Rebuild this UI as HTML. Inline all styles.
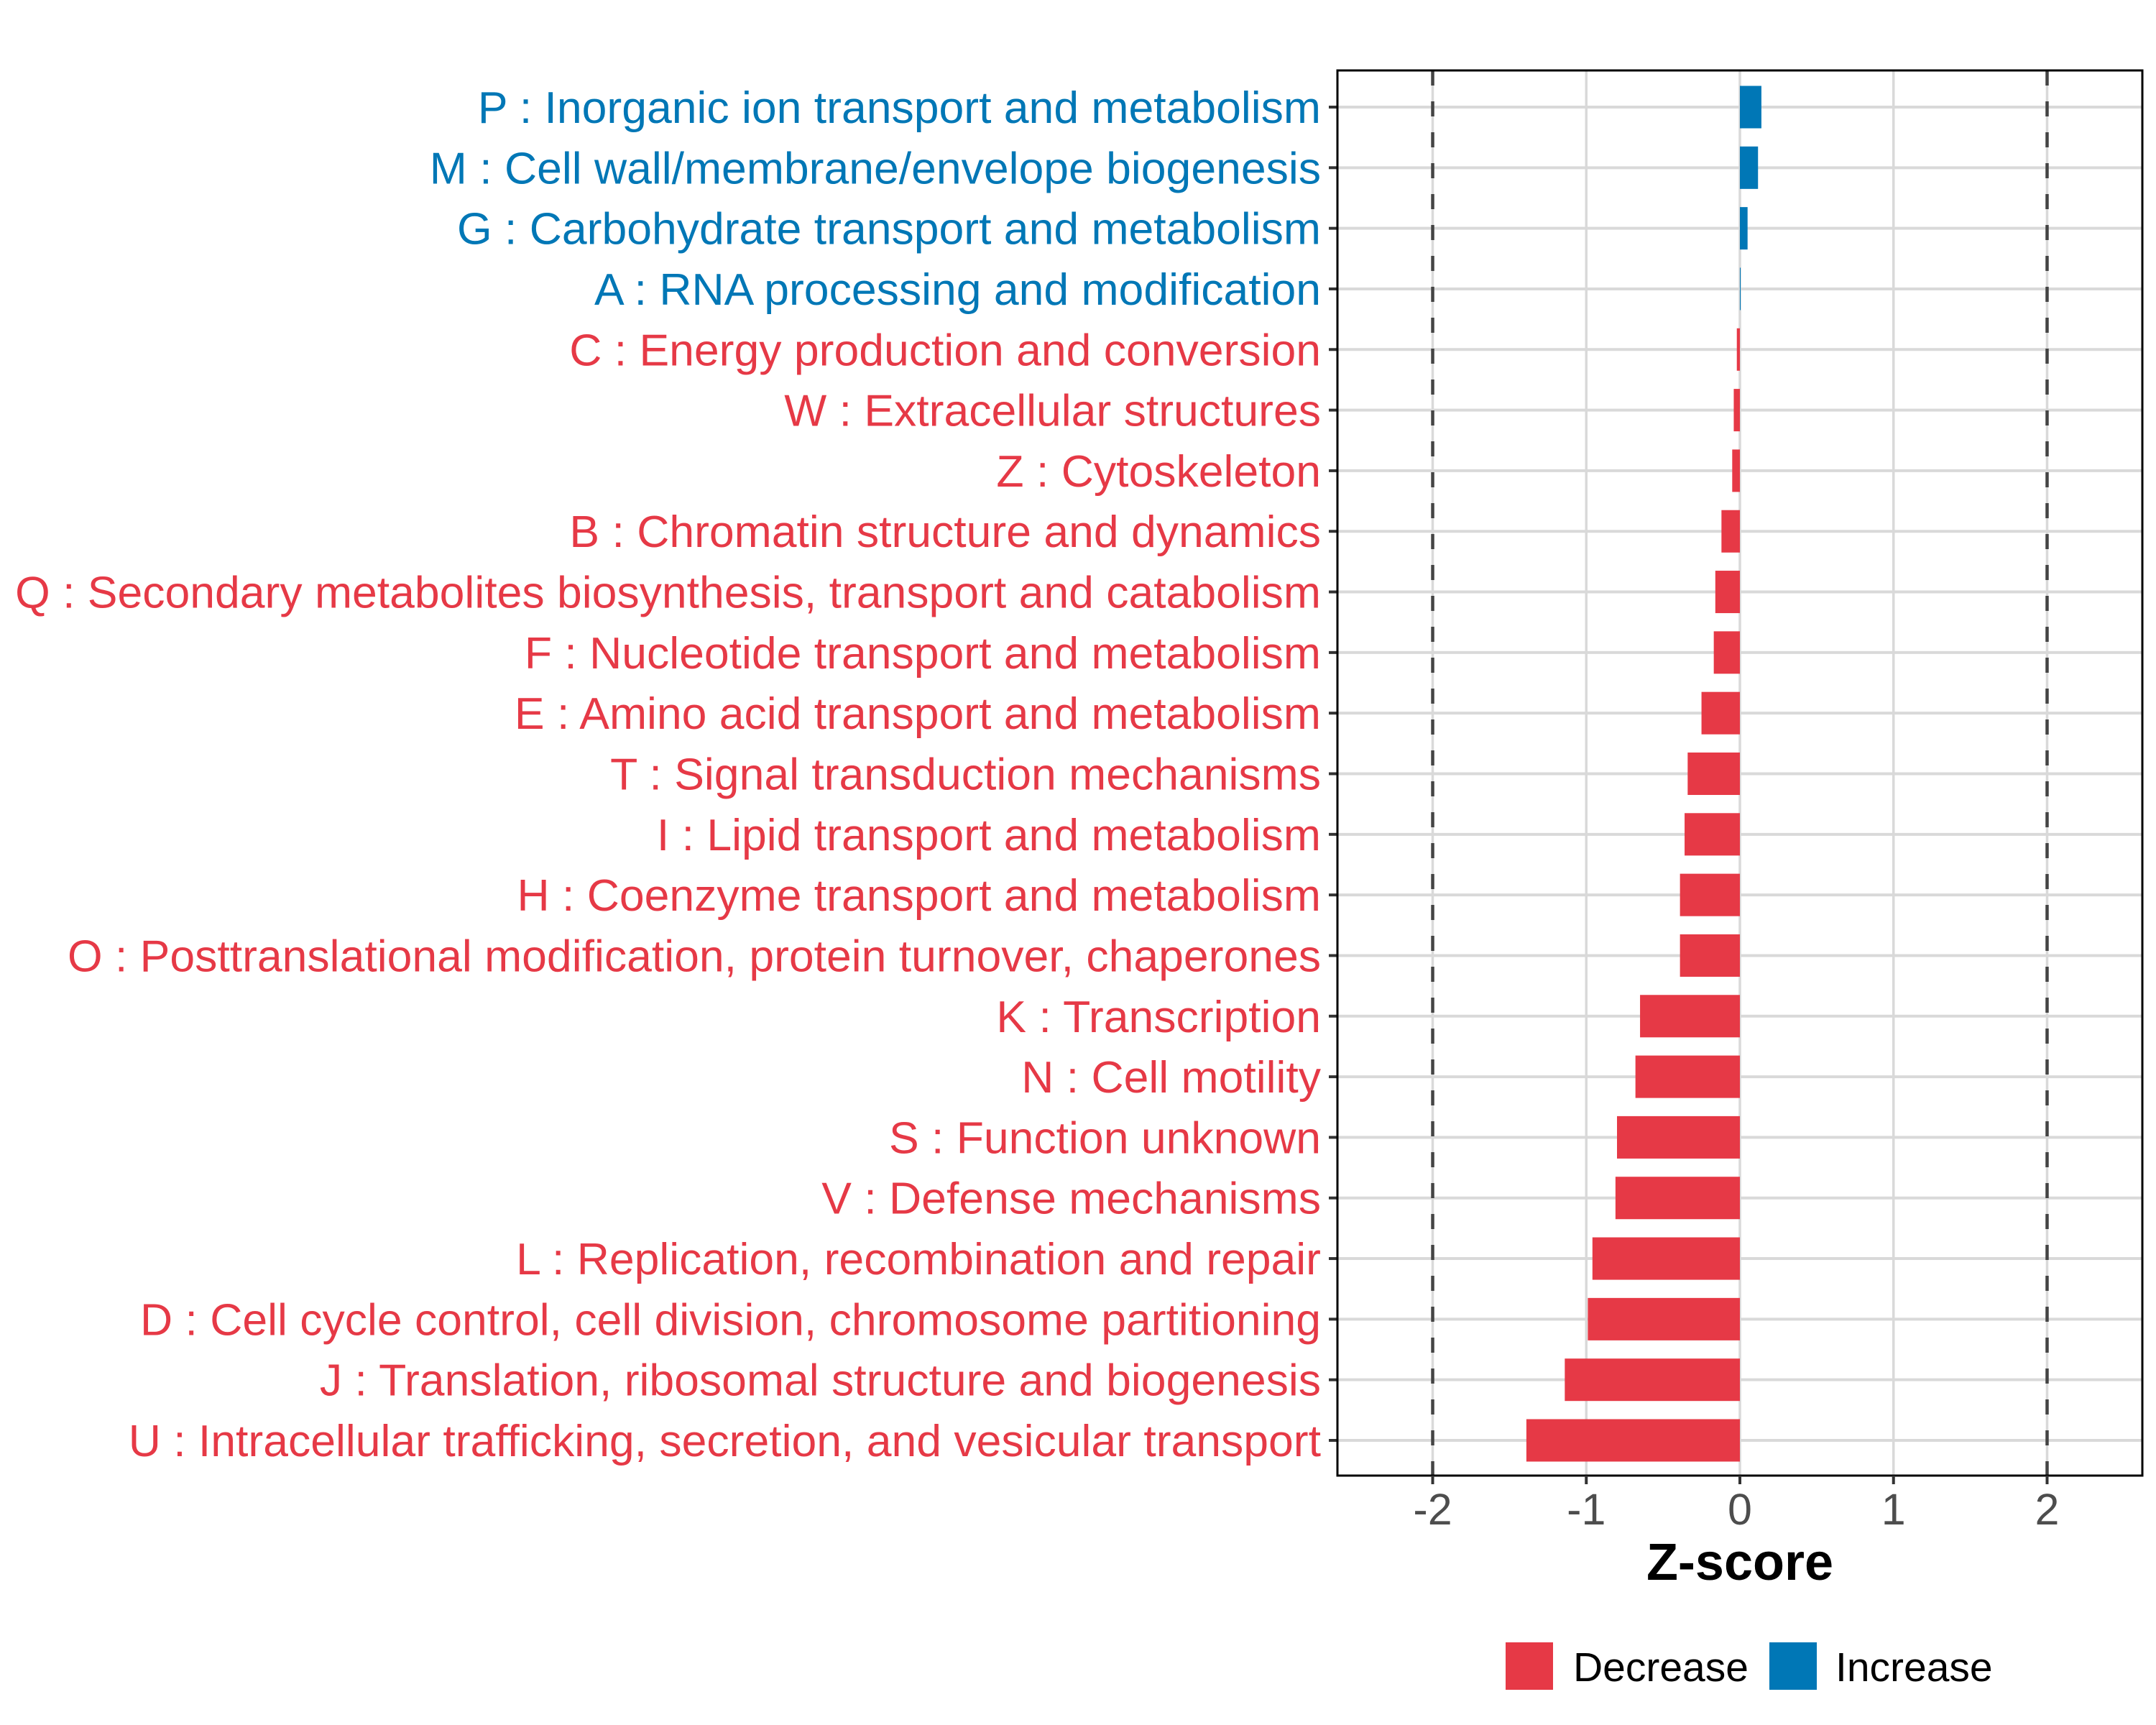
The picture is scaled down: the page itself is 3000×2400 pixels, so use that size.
<!DOCTYPE html>
<html><head><meta charset="utf-8"><style>html,body{margin:0;padding:0;background:#fff}svg{display:block}text{font-family:"Liberation Sans",sans-serif}</style></head>
<body>
<svg id="chart" width="3000" height="2400" xmlns="http://www.w3.org/2000/svg"></svg>
<script>
const categories = ["P : Inorganic ion transport and metabolism","M : Cell wall/membrane/envelope biogenesis","G : Carbohydrate transport and metabolism","A : RNA processing and modification","C : Energy production and conversion","W : Extracellular structures","Z : Cytoskeleton","B : Chromatin structure and dynamics","Q : Secondary metabolites biosynthesis, transport and catabolism","F : Nucleotide transport and metabolism","E : Amino acid transport and metabolism","T : Signal transduction mechanisms","I : Lipid transport and metabolism","H : Coenzyme transport and metabolism","O : Posttranslational modification, protein turnover, chaperones","K : Transcription","N : Cell motility","S : Function unknown","V : Defense mechanisms","L : Replication, recombination and repair","D : Cell cycle control, cell division, chromosome partitioning","J : Translation, ribosomal structure and biogenesis","U : Intracellular trafficking, secretion, and vesicular transport"];
const zscores = [0.14,0.118,0.05,0.005,-0.02,-0.04,-0.05,-0.12,-0.16,-0.17,-0.25,-0.34,-0.36,-0.39,-0.39,-0.65,-0.68,-0.80,-0.81,-0.96,-0.99,-1.14,-1.39];
const xTicks = [-2,-1,0,1,2];
const xTickLabels = ["-2","-1","0","1","2"];
const thresholds = [-2,2];
const legendLabels = ["Decrease","Increase"];

const RED="#E63946", BLUE="#0077B6";
const svg=document.getElementById('chart');
const NS="http://www.w3.org/2000/svg";
const L=1861,R=2981,T=98,B=2053;
const xMin=-2.62,xMax=2.62;
const xs=v=>L+(v-xMin)/(xMax-xMin)*(R-L);
const y0=149,step=(2004-149)/22;
const ys=i=>y0+i*step;
function mk(tag,attrs,parent){const e=document.createElementNS(NS,tag);for(const k in attrs)e.setAttribute(k,attrs[k]);(parent||svg).appendChild(e);return e;}

const grid=mk('g',{});


xTicks.forEach(t=>{const l=mk('line',{x1:xs(t),x2:xs(t),y1:T,y2:B,stroke:'#d9d9d9','stroke-width':3.5},grid);

});
categories.forEach((c,i)=>{const l=mk('line',{x1:L,x2:R,y1:ys(i),y2:ys(i),stroke:'#d9d9d9','stroke-width':4},grid);

});

thresholds.forEach(t=>{const l=mk('line',{x1:xs(t),x2:xs(t),y1:T,y2:B,stroke:'#444','stroke-width':4.5,'stroke-dasharray':'21 22'});

});

const bh=step*0.7;
zscores.forEach((v,i)=>{const x1=Math.min(xs(0),xs(v)),w=Math.abs(xs(v)-xs(0));
const r=mk('rect',{x:x1,y:ys(i)-bh/2,width:Math.max(w,1),height:bh,fill:v>=0?BLUE:RED});


const tk=mk('line',{x1:L-12,x2:L,y1:ys(i),y2:ys(i),stroke:'#333','stroke-width':4});


const tx=mk('text',{x:1838,y:ys(i)+22,'text-anchor':'end','font-size':62.5,fill:v>=0?BLUE:RED});
tx.textContent=categories[i];

});

const fr=mk('rect',{x:L,y:T,width:R-L,height:B-T,fill:'none',stroke:'#000','stroke-width':3});



xTicks.forEach((t,i)=>{const l=mk('line',{x1:xs(t),x2:xs(t),y1:B,y2:B+12,stroke:'#333','stroke-width':4});


const tx=mk('text',{x:xs(t),y:2121,'text-anchor':'middle','font-size':61,fill:'#4d4d4d'});
tx.textContent=xTickLabels[i];

});

const xt=mk('text',{x:xs(0),y:2198,'text-anchor':'middle','font-size':72,'font-weight':'bold',fill:'#000'});
xt.textContent="Z-score";



const lg=mk('g',{});


[[2095,2189,RED],[2462,2554,BLUE]].forEach((p,i)=>{
const s=mk('rect',{x:p[0],y:2285,width:66,height:66,fill:p[2]},lg);


const tx=mk('text',{x:p[1],y:2339,'font-size':57,fill:'#000'},lg);
tx.textContent=legendLabels[i];

});
</script>
</body></html>
